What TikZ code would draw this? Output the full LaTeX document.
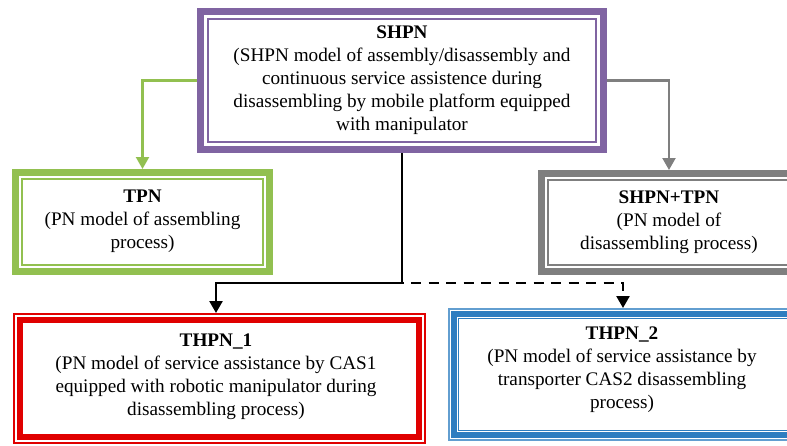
\documentclass[tikz,border=0pt]{standalone}
\usepackage{fontspec}
\setmainfont{Liberation Serif}
\usetikzlibrary{arrows.meta}

\definecolor{rimpurple}{HTML}{8064A2}
\definecolor{rimgreen}{HTML}{92C050}
\definecolor{rimgray}{HTML}{7F7F7F}
\definecolor{rimred}{HTML}{E00000}
\definecolor{rimblue}{HTML}{2E7DC0}

% one rectangular rim of a box: node, colour, inset, line width
\newcommand{\boxrim}[4]{%
  \draw[#2, line width=#4pt]
    ([shift={(#3,#3)}]#1.north west) rectangle ([shift={(-#3,-#3)}]#1.south east);}

\begin{document}
\begin{tikzpicture}[x=1pt, y=-1pt,
  frame/.style={inner sep=0pt, outer sep=0pt, draw=none},
  txt/.style={align=center, font=\fontsize{19.2}{23}\selectfont, inner sep=0pt},
  conn/.style={line width=2.2pt, -{Triangle[width=13pt,length=12pt]}},
]
\useasboundingbox (0,0) rectangle (787,445);

% boxes (outer edges)
\node[frame, minimum width=410pt, minimum height=145pt] (shpn) at (402,80.5) {};
\node[frame, minimum width=261pt, minimum height=106pt] (tpn) at (142.5,222) {};
\node[frame, minimum width=262pt, minimum height=105pt] (mix) at (669,222.5) {};
\node[frame, minimum width=413pt, minimum height=131pt] (thpna) at (219.5,378.5) {};
\node[frame, minimum width=350pt, minimum height=133pt] (thpnb) at (623,374.5) {};

% rims
\boxrim{shpn}{rimpurple}{3.5}{7}
\boxrim{shpn}{rimpurple}{11}{1.5}
\boxrim{tpn}{rimgreen}{3.5}{7}
\boxrim{tpn}{rimgreen}{10}{1.5}
\boxrim{mix}{rimgray}{3.5}{7}
\boxrim{mix}{rimgray}{10}{1.5}
\boxrim{thpna}{rimred}{0.8}{1.6}
\boxrim{thpna}{rimred}{7}{6}
\boxrim{thpnb}{rimblue!75}{0.8}{1.6}
\boxrim{thpnb}{rimblue}{6}{6}
\boxrim{thpnb}{rimblue}{10.6}{1.2}

% texts
\node[txt] (shpn-t) at (402,80.5) {\textbf{SHPN}\\(SHPN model of assembly/disassembly and\\continuous service assistence during\\disassembling by mobile platform equipped\\with manipulator};
\node[txt] (tpn-t) at (142.5,221.5) {\textbf{TPN}\\(PN model of assembling\\process)};
\node[txt] (mix-t) at (669,222.5) {\textbf{SHPN+TPN}\\(PN model of\\disassembling process)};
\node[txt] (thpna-t) at (216,376.5) {\textbf{THPN\_1}\\(PN model of service assistance by CAS1\\equipped with robotic manipulator during\\disassembling process)};
\node[txt] (thpnb-t) at (622,369.5) {\textbf{THPN\_2}\\(PN model of service assistance by\\transporter CAS2 disassembling\\process)};

% connectors
\coordinate (split) at (402,283);
\draw[conn, rimgreen] (shpn.west) -| (tpn.north);
\draw[conn, rimgray] (shpn.east) -| (mix.north);
\draw[conn, black, line width=2.5pt] (shpn.south) |- (split) -| ([xshift=-3.5pt]thpna.north);
\draw[conn, black, line width=2.5pt, dash pattern=on 10pt off 7.5pt, dash phase=-9pt] (split) -| (thpnb.north);
\end{tikzpicture}
\end{document}
